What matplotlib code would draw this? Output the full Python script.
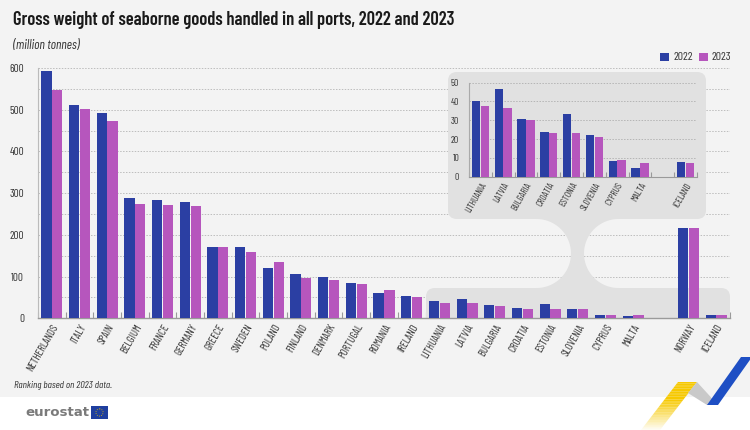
import matplotlib
matplotlib.use('Agg')
import matplotlib.pyplot as plt
import numpy as np
from matplotlib.patches import FancyBboxPatch, Rectangle, Polygon, Circle
from matplotlib.transforms import Affine2D, ScaledTranslation
from matplotlib.ticker import MultipleLocator, FixedLocator

# ---------------- data ----------------
countries = ['NETHERLANDS', 'ITALY', 'SPAIN', 'BELGIUM', 'FRANCE', 'GERMANY',
             'GREECE', 'SWEDEN', 'POLAND', 'FINLAND', 'DENMARK', 'PORTUGAL',
             'ROMANIA', 'IRELAND', 'LITHUANIA', 'LATVIA', 'BULGARIA', 'CROATIA',
             'ESTONIA', 'SLOVENIA', 'CYPRUS', 'MALTA', '', 'NORWAY', 'ICELAND']
v2022 = [593, 511, 491, 289, 283, 279, 172, 172, 120, 106, 98, 85, 60, 54,
         40.3, 46.5, 30.9, 24.0, 33.5, 22.4, 8.2, 4.8, np.nan, 216, 7.6]
v2023 = [547, 502, 474, 274, 272, 268, 172, 160, 136, 96, 93, 82, 69, 50,
         37.4, 36.4, 30.2, 23.2, 23.0, 21.1, 8.7, 7.1, np.nan, 217, 7.1]
inset_countries = ['LITHUANIA', 'LATVIA', 'BULGARIA', 'CROATIA', 'ESTONIA',
                   'SLOVENIA', 'CYPRUS', 'MALTA', '', 'ICELAND']
series_labels = ['2022', '2023']

title = 'Gross weight of seaborne goods handled in all ports, 2022 and 2023'
subtitle = '(million tonnes)'
footnote = 'Ranking based on 2023 data.'

# ---------------- style ----------------
C22 = '#2b3fa3'
C23 = '#b656bd'
BG = '#f3f3f3'
INSET_BG = '#e1e1e1'
GRID = '#bdbdbd'
TXT = '#333333'
FONT = ['Barlow Condensed', 'DejaVu Sans']
plt.rcParams['font.family'] = FONT

W, H = 750, 430
fig = plt.figure(figsize=(W / 100, H / 100), dpi=100, facecolor='white')
PX = Affine2D().scale(1, -1).translate(0, H)  # pixel coords (top-down) -> display


def frect(x0, y0, x1, y1):
    return [x0 / W, 1 - y1 / H, (x1 - x0) / W, (y1 - y0) / H]

# background axes
axbg = fig.add_axes([0, 0, 1, 1], zorder=-5)
axbg.set_xlim(0, W)
axbg.set_ylim(H, 0)
axbg.axis('off')
axbg.add_patch(Rectangle((0, 0), W, 397, color=BG, lw=0))

# ribbon decoration (bottom right)
n = 30
for i in range(n):
    t0, t1 = i / n, (i + 1) / n
    xa0 = 678 + (641 - 678) * t0
    xa1 = 678 + (641 - 678) * t1
    ya0 = 382 + 48 * t0
    ya1 = 382 + 48 * t1
    alpha = 1.0 if t0 < 0.35 else max(0.0, 1 - (t0 - 0.35) / 0.65)
    axbg.add_patch(Polygon([(xa0, ya0), (xa0 + 19, ya0), (xa1 + 19, ya1), (xa1, ya1)],
                           closed=True, color='#f7c900', alpha=alpha, lw=0))
axbg.add_patch(Polygon([(688, 393), (697, 382), (718, 405), (707, 405)],
                       closed=True, color='#c9c9c9', lw=0))
axbg.add_patch(Polygon([(707, 405), (741, 357), (752, 357), (718, 405)],
                       closed=True, color='#1e4fc4', lw=0))

# eurostat logo
axbg.text(25, 413, 'eurostat', fontsize=9.6, fontweight='bold', color='#7a7a7a',
          family=['DejaVu Sans'], va='center', ha='left')
axbg.add_patch(Rectangle((91, 406), 17, 13, color='#1f3f9f', lw=0))
axbg.add_patch(Circle((99.5, 412.5), 3.6, fill=False, ec='#e8c400', lw=0.6, ls=':'))

# texts
fig.text(13 / W, 1 - 20 / H, title, fontsize=13.3, fontweight='semibold', color='#1a1a1a',
         va='center', ha='left')
fig.text(13 / W, 1 - 45 / H, subtitle, fontsize=9.5, style='italic', color=TXT,
         va='center', ha='left')
fig.text(14 / W, 1 - 386 / H, footnote, fontsize=7.4, style='italic', color=TXT,
         va='center', ha='left')

LBL_SHIFT = ScaledTranslation(4 / 100, 0, fig.dpi_scale_trans)

# ---------------- main axes ----------------
ax = fig.add_axes(frect(38, 68, 730, 318.3))
ax.set_facecolor('none')
x = np.arange(len(countries))
bw = 0.37
off = 0.195
ax.bar(x - off, v2022, bw, color=C22, zorder=3, label=series_labels[0])
ax.bar(x + off, v2023, bw, color=C23, zorder=3, label=series_labels[1])
ax.set_xlim(-0.5, len(countries) - 0.5)
ax.set_ylim(0, 600)
ax.yaxis.set_major_locator(MultipleLocator(100))
ax.yaxis.set_minor_locator(MultipleLocator(50))
ax.grid(axis='y', which='both', color=GRID, ls=(0, (1.5, 1.5)), lw=0.7, zorder=0)
ax.set_axisbelow(True)
ax.set_xticks(x)
ax.set_xticklabels(countries, rotation=60, ha='right', rotation_mode='anchor',
                   fontsize=7.8, color=TXT)
for lab in ax.get_xticklabels():
    lab.set_transform(lab.get_transform() + LBL_SHIFT)
ax.xaxis.set_minor_locator(FixedLocator(np.arange(-0.5, len(countries), 1.0)))
ax.tick_params(axis='x', which='major', length=0, pad=3)
ax.tick_params(axis='x', which='minor', length=4, direction='in', color='#9a9a9a', width=0.8)
ax.tick_params(axis='y', which='both', length=0, labelsize=8, labelcolor=TXT, pad=10)
for s in ['top', 'right']:
    ax.spines[s].set_visible(False)
ax.spines['left'].set_color('#bbbbbb')
ax.spines['bottom'].set_color('#9a9a9a')
ax.spines['left'].set_linewidth(0.8)
ax.spines['bottom'].set_linewidth(1.0)

# grey highlight shapes (pixel coordinates)
inset_bg = FancyBboxPatch((448, 72), 258, 147, boxstyle='round,pad=0,rounding_size=9',
                          transform=PX, fc=INSET_BG, ec='none', zorder=1, clip_on=False)
ax.add_patch(inset_bg)
band = FancyBboxPatch((426, 288), 304, 50, boxstyle='round,pad=0,rounding_size=9',
                      transform=PX, fc=INSET_BG, ec='none', zorder=1)
ax.add_patch(band)
r = 34.5
cy = 253.5
lcx, rcx = 571 - r, 584 + r
ang = np.linspace(0, np.pi, 40)
right_arc = [(rcx - r * np.sin(a), cy - r * np.cos(a)) for a in ang]
left_arc = [(lcx + r * np.sin(a), cy + r * np.cos(a)) for a in ang]
pts = [(lcx, cy - r - 2), (rcx, cy - r - 2)] + right_arc + [(rcx, cy + r + 2), (lcx, cy + r + 2)] + left_arc
ax.add_patch(Polygon(pts, closed=True, transform=PX, fc=INSET_BG, ec='none',
                     zorder=1, clip_on=False))

# legend
fig.add_artist(Rectangle((660, 53), 9, 8, transform=PX, color=C22, lw=0))
fig.text(673 / W, 1 - 57 / H, series_labels[0], fontsize=8.5, color=TXT, va='center')
fig.add_artist(Rectangle((699, 53), 9, 8, transform=PX, color=C23, lw=0))
fig.text(712 / W, 1 - 57 / H, series_labels[1], fontsize=8.5, color=TXT, va='center')

# ---------------- inset axes ----------------
idx = [countries.index(c) for c in inset_countries]
i22 = [v2022[i] for i in idx]
i23 = [v2023[i] for i in idx]
axi = fig.add_axes(frect(469, 82.7, 697, 176.7))
axi.set_facecolor('none')
xi = np.arange(len(inset_countries))
axi.bar(xi - off, i22, bw, color=C22, zorder=3)
axi.bar(xi + off, i23, bw, color=C23, zorder=3)
axi.set_xlim(-0.5, len(inset_countries) - 0.5)
axi.set_ylim(0, 50)
axi.yaxis.set_major_locator(MultipleLocator(10))
axi.grid(axis='y', color='#b5b5b5', ls=(0, (1.5, 1.5)), lw=0.7, zorder=0)
axi.set_axisbelow(True)
axi.set_xticks(xi)
axi.set_xticklabels(inset_countries, rotation=60, ha='right', rotation_mode='anchor',
                    fontsize=6.8, color=TXT)
for lab in axi.get_xticklabels():
    lab.set_transform(lab.get_transform() + LBL_SHIFT)
axi.xaxis.set_minor_locator(FixedLocator(np.arange(-0.5, len(inset_countries), 1.0)))
axi.tick_params(axis='x', which='major', length=0, pad=3)
axi.tick_params(axis='x', which='minor', length=3.5, direction='in', color='#9a9a9a', width=0.8)
axi.tick_params(axis='y', length=0, labelsize=7, labelcolor=TXT, pad=7)
for s in ['top', 'right']:
    axi.spines[s].set_visible(False)
axi.spines['left'].set_color('#aaaaaa')
axi.spines['bottom'].set_color('#9a9a9a')
axi.spines['left'].set_linewidth(0.8)

fig.savefig('out.png', dpi=100, facecolor='white')
